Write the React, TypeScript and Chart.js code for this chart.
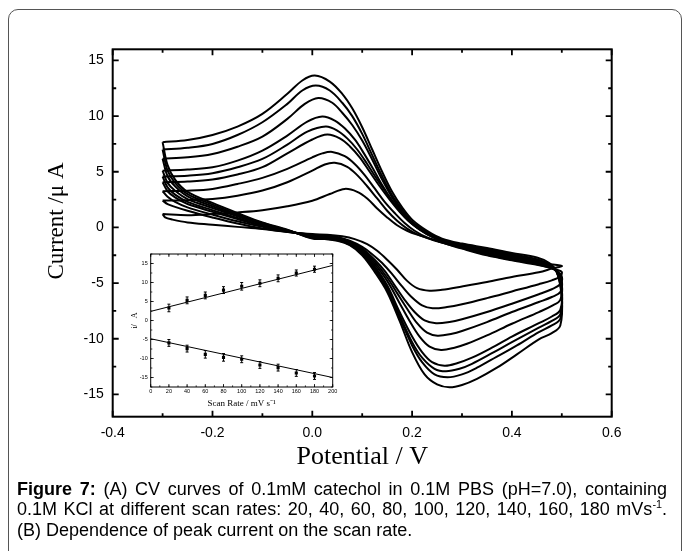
import React, { useEffect, useRef } from 'react';
import { Chart, registerables } from 'chart.js';

Chart.register(...registerables);

const SANS = "'Liberation Sans', Arial, Helvetica, sans-serif";
const SERIF = "'Liberation Serif', 'Times New Roman', Times, serif";

type Pt = [number, number];

// ---- Main figure (A): CV curves, potential (V) vs current (uA) ----
const scanRates = [20, 40, 60, 80, 100, 120, 140, 160, 180];

const cv20: Pt[] = [
  [-0.3, 1.2], [-0.25, 1.1], [-0.2, 1.2], [-0.15, 1.35], [-0.1, 1.55], [-0.05, 1.9], [0, 2.4], [0.035, 3.0], [0.065, 3.46],
  [0.09, 3.2], [0.11, 2.6], [0.13, 1.7], [0.15, 0.9], [0.17, 0.2], [0.19, -0.3], [0.21, -0.65], [0.25, -1.2], [0.3, -1.8],
  [0.35, -2.4], [0.4, -2.9], [0.45, -3.2], [0.5, -3.45],
  [0.48, -3.7], [0.454, -4.03], [0.4, -4.45], [0.35, -4.9], [0.3, -5.3], [0.26, -5.6], [0.235, -5.68], [0.21, -5.45],
  [0.19, -4.8], [0.17, -3.8], [0.15, -2.9], [0.13, -2.1], [0.11, -1.5], [0.085, -1.05], [0.06, -0.8], [0.03, -0.65], [0, -0.6],
  [-0.05, -0.4], [-0.1, -0.15], [-0.15, 0.05], [-0.2, 0.25], [-0.25, 0.45], [-0.28, 0.7], [-0.295, 0.9], [-0.3, 1.2],
];
const cv40: Pt[] = [
  [-0.3, 2.41], [-0.25, 2.45], [-0.2, 2.56], [-0.15, 2.85], [-0.1, 3.31], [-0.05, 4.06], [0, 5.1], [0.025, 5.65], [0.045, 5.8],
  [0.07, 5.45], [0.09, 4.7], [0.11, 3.7], [0.13, 2.6], [0.15, 1.5], [0.17, 0.6], [0.19, -0.1], [0.21, -0.6], [0.24, -1.1],
  [0.27, -1.5], [0.3, -1.9], [0.35, -2.5], [0.4, -2.95], [0.45, -3.35], [0.475, -3.6], [0.49, -3.8], [0.5, -4.0],
  [0.497, -4.4], [0.48, -4.75], [0.454, -5.1], [0.4, -5.75], [0.35, -6.35], [0.3, -6.9], [0.27, -7.15], [0.241, -7.26], [0.22, -7.0],
  [0.2, -6.3], [0.18, -5.3], [0.16, -4.2], [0.14, -3.2], [0.12, -2.4], [0.1, -1.75], [0.075, -1.2], [0.05, -0.85], [0.025, -0.7],
  [0, -0.65], [-0.05, -0.4], [-0.1, -0.1], [-0.15, 0.35], [-0.2, 0.9], [-0.25, 1.5], [-0.275, 1.85], [-0.29, 2.1], [-0.3, 2.41],
];
const cv60: Pt[] = [
  [-0.3, 3.25], [-0.25, 3.3], [-0.2, 3.46], [-0.15, 3.9], [-0.1, 4.45], [-0.05, 5.26], [0, 6.3], [0.02, 6.65], [0.04, 6.78],
  [0.065, 6.4], [0.085, 5.7], [0.105, 4.7], [0.125, 3.5], [0.145, 2.3], [0.165, 1.3], [0.185, 0.4], [0.205, -0.3], [0.23, -0.9],
  [0.26, -1.35], [0.3, -1.85], [0.35, -2.45], [0.4, -2.9], [0.45, -3.3], [0.475, -3.6], [0.49, -3.9], [0.5, -4.4],
  [0.497, -5.1], [0.48, -5.55], [0.454, -6.0], [0.4, -6.85], [0.35, -7.6], [0.3, -8.25], [0.275, -8.5], [0.248, -8.61], [0.225, -8.35],
  [0.205, -7.6], [0.185, -6.5], [0.165, -5.2], [0.145, -3.9], [0.125, -2.9], [0.1, -1.9], [0.075, -1.25], [0.05, -0.9],
  [0.025, -0.75], [0, -0.7], [-0.05, -0.35], [-0.1, 0.05], [-0.15, 0.55], [-0.2, 1.15], [-0.25, 1.8], [-0.275, 2.3],
  [-0.29, 2.75], [-0.3, 3.25],
];
const cv80: Pt[] = [
  [-0.3, 4.06], [-0.25, 4.12], [-0.2, 4.3], [-0.15, 4.75], [-0.1, 5.41], [-0.05, 6.66], [0, 7.9], [0.03, 8.34], [0.055, 8.0],
  [0.075, 7.3], [0.095, 6.3], [0.115, 5.0], [0.135, 3.7], [0.155, 2.5], [0.175, 1.4], [0.195, 0.5], [0.215, -0.2], [0.24, -0.85],
  [0.27, -1.35], [0.3, -1.8], [0.35, -2.35], [0.4, -2.8], [0.45, -3.25], [0.475, -3.55], [0.49, -3.95], [0.5, -4.8],
  [0.497, -5.8], [0.48, -6.25], [0.454, -6.7], [0.4, -7.6], [0.35, -8.5], [0.3, -9.3], [0.28, -9.55], [0.251, -9.72], [0.23, -9.45],
  [0.21, -8.6], [0.19, -7.3], [0.17, -5.9], [0.15, -4.5], [0.125, -3.1], [0.1, -2.0], [0.075, -1.3], [0.05, -0.95], [0.025, -0.8],
  [0, -0.75], [-0.05, -0.35], [-0.1, 0.15], [-0.15, 0.75], [-0.2, 1.4], [-0.25, 2.1], [-0.275, 2.7], [-0.29, 3.25], [-0.3, 4.06],
];
const cv100: Pt[] = [
  [-0.3, 4.57], [-0.25, 4.65], [-0.2, 4.87], [-0.15, 5.4], [-0.1, 6.15], [-0.05, 7.44], [-0.01, 8.6], [0.027, 9.06], [0.05, 8.7],
  [0.07, 8.0], [0.09, 7.0], [0.11, 5.7], [0.13, 4.3], [0.15, 3.0], [0.17, 1.8], [0.19, 0.8], [0.21, 0.0], [0.24, -0.8],
  [0.27, -1.3], [0.3, -1.7], [0.35, -2.25], [0.4, -2.7], [0.45, -3.15], [0.475, -3.5], [0.49, -4.0], [0.5, -5.1],
  [0.497, -6.5], [0.48, -7.05], [0.454, -7.6], [0.4, -8.65], [0.35, -9.7], [0.31, -10.45], [0.285, -10.8], [0.258, -11.0], [0.235, -10.7],
  [0.215, -9.8], [0.195, -8.4], [0.175, -6.8], [0.15, -4.8], [0.125, -3.3], [0.1, -2.1], [0.075, -1.4], [0.05, -1.0],
  [0.025, -0.85], [0, -0.8], [-0.05, -0.3], [-0.1, 0.2], [-0.15, 0.85], [-0.2, 1.55], [-0.25, 2.3], [-0.275, 2.95],
  [-0.29, 3.6], [-0.3, 4.57],
];
const cv120: Pt[] = [
  [-0.3, 5.1], [-0.25, 5.2], [-0.2, 5.41], [-0.15, 6.0], [-0.1, 6.9], [-0.05, 8.25], [-0.01, 9.5], [0.02, 9.96], [0.045, 9.6],
  [0.065, 8.9], [0.085, 7.9], [0.1, 6.9], [0.12, 5.4], [0.14, 3.8], [0.16, 2.4], [0.18, 1.2], [0.2, 0.3], [0.23, -0.6],
  [0.26, -1.2], [0.3, -1.65], [0.35, -2.15], [0.4, -2.6], [0.45, -3.05], [0.475, -3.45], [0.49, -4.0], [0.5, -5.5],
  [0.497, -7.4], [0.48, -8.0], [0.454, -8.6], [0.4, -9.8], [0.36, -10.8], [0.32, -11.7], [0.29, -12.2], [0.265, -12.42], [0.24, -12.1],
  [0.22, -11.2], [0.2, -9.8], [0.175, -7.6], [0.15, -5.2], [0.125, -3.5], [0.1, -2.2], [0.075, -1.45], [0.05, -1.05],
  [0.025, -0.9], [0, -0.85], [-0.05, -0.3], [-0.1, 0.3], [-0.15, 1.0], [-0.2, 1.75], [-0.25, 2.55], [-0.275, 3.3],
  [-0.29, 4.0], [-0.3, 5.1],
];
const cv140: Pt[] = [
  [-0.3, 6.18], [-0.25, 6.3], [-0.2, 6.6], [-0.15, 7.25], [-0.1, 8.16], [-0.05, 9.75], [-0.015, 11.1], [0.012, 11.63],
  [0.04, 11.2], [0.06, 10.3], [0.08, 9.2], [0.1, 7.8], [0.12, 6.1], [0.14, 4.3], [0.16, 2.7], [0.18, 1.4], [0.2, 0.4],
  [0.23, -0.5], [0.26, -1.15], [0.3, -1.6], [0.35, -2.05], [0.4, -2.5], [0.45, -2.95], [0.475, -3.35], [0.49, -4.0], [0.5, -5.8],
  [0.497, -7.8], [0.48, -8.4], [0.454, -9.0], [0.4, -10.3], [0.36, -11.3], [0.32, -12.25], [0.295, -12.7], [0.268, -12.92], [0.245, -12.7],
  [0.22, -11.7], [0.2, -10.3], [0.175, -7.9], [0.15, -5.4], [0.125, -3.65], [0.1, -2.3], [0.075, -1.5], [0.05, -1.1],
  [0.025, -0.95], [0, -0.9], [-0.05, -0.25], [-0.1, 0.35], [-0.15, 1.1], [-0.2, 1.9], [-0.25, 2.8], [-0.275, 3.7],
  [-0.29, 4.6], [-0.3, 6.18],
];
const cv160: Pt[] = [
  [-0.3, 6.99], [-0.25, 7.15], [-0.2, 7.5], [-0.15, 8.3], [-0.1, 9.45], [-0.05, 11.1], [-0.02, 12.3], [0.007, 12.74],
  [0.035, 12.3], [0.06, 11.2], [0.08, 10.0], [0.1, 8.4], [0.12, 6.5], [0.14, 4.6], [0.16, 2.9], [0.18, 1.6], [0.2, 0.5],
  [0.23, -0.4], [0.26, -1.1], [0.3, -1.55], [0.35, -1.95], [0.4, -2.4], [0.45, -2.85], [0.475, -3.3], [0.49, -4.0], [0.5, -6.1],
  [0.497, -8.2], [0.48, -8.8], [0.454, -9.4], [0.41, -10.6], [0.37, -11.6], [0.33, -12.6], [0.3, -13.2], [0.271, -13.46], [0.245, -13.2],
  [0.22, -12.1], [0.2, -10.6], [0.175, -8.1], [0.15, -5.6], [0.125, -3.8], [0.1, -2.4], [0.075, -1.55], [0.05, -1.15],
  [0.025, -1.0], [0, -0.95], [-0.05, -0.25], [-0.1, 0.4], [-0.15, 1.2], [-0.2, 2.05], [-0.25, 3.0], [-0.275, 4.0],
  [-0.29, 5.1], [-0.3, 6.99],
];
const cv180: Pt[] = [
  [-0.3, 7.66], [-0.25, 7.86], [-0.2, 8.31], [-0.15, 9.06], [-0.1, 10.2], [-0.05, 12.0], [-0.02, 13.2], [0.005, 13.64],
  [0.035, 13.1], [0.06, 12.0], [0.08, 10.7], [0.1, 9.0], [0.12, 7.0], [0.14, 5.0], [0.16, 3.2], [0.18, 1.8], [0.2, 0.7],
  [0.23, -0.3], [0.26, -1.0], [0.3, -1.45], [0.35, -1.85], [0.4, -2.3], [0.45, -2.7], [0.475, -3.2], [0.49, -4.0], [0.5, -6.4],
  [0.497, -8.8], [0.48, -9.5], [0.454, -10.05], [0.41, -11.4], [0.37, -12.6], [0.33, -13.6], [0.3, -14.15], [0.275, -14.36], [0.25, -14.1],
  [0.225, -13.2], [0.2, -11.2], [0.175, -8.4], [0.15, -5.8], [0.125, -4.0], [0.1, -2.5], [0.075, -1.6], [0.05, -1.2],
  [0.025, -1.05], [0, -1.0], [-0.05, -0.2], [-0.1, 0.45], [-0.15, 1.3], [-0.2, 2.2], [-0.25, 3.2], [-0.275, 4.3],
  [-0.29, 5.6], [-0.3, 7.66],
];
const cvCurves: Pt[][] = [cv20, cv40, cv60, cv80, cv100, cv120, cv140, cv160, cv180];

const potentialTicks = [-0.4, -0.2, 0, 0.2, 0.4, 0.6];
const currentTicks = [-15, -10, -5, 0, 5, 10, 15];
const yTitle = 'Current /\u03bc A';

// ---- Inset (B): peak current vs scan rate ----
const insetRates = [20, 40, 60, 80, 100, 120, 140, 160, 180];
const anodicPeak = [3.3, 5.3, 6.6, 8.0, 9.0, 9.8, 11.1, 12.5, 13.5];
const anodicErr = [1.0, 0.9, 0.9, 0.9, 1.0, 0.9, 0.9, 0.8, 0.8];
const cathodicPeak = [-5.9, -7.4, -8.9, -9.7, -10.2, -11.7, -12.4, -13.8, -14.6];
const cathodicErr = [0.9, 0.9, 1.0, 1.0, 0.9, 0.9, 0.9, 0.9, 0.9];
const fitRates = [0, 200];
const anodicFit = [2.4, 14.5];
const cathodicFit = [-4.8, -15.0];
const insetXTicks = [0, 20, 40, 60, 80, 100, 120, 140, 160, 180, 200];
const insetYTicks = [-15, -10, -5, 0, 5, 10, 15];

function frameTicksPlugin(cfg: { major: number; minor: number; xMinor: number; yMinor: number; tickWidth: number; frameWidth: number }) {
  return {
    id: 'frameTicks',
    afterDraw(chart: any) {
      const { ctx, chartArea: a, scales } = chart;
      const xs = scales.x;
      const ys = scales.y;
      const minorVals = (s: any, step: number) => {
        const out: number[] = [];
        const start = Math.ceil(s.min / step - 1e-6);
        for (let i = start; i * step <= s.max + 1e-9; i++) out.push(i * step);
        return out;
      };
      ctx.save();
      ctx.strokeStyle = '#000';
      ctx.lineWidth = cfg.tickWidth;
      ctx.beginPath();
      const xTick = (v: number, len: number) => {
        const p = xs.getPixelForValue(v);
        ctx.moveTo(p, a.bottom); ctx.lineTo(p, a.bottom - len);
        ctx.moveTo(p, a.top); ctx.lineTo(p, a.top + len);
      };
      const yTick = (v: number, len: number) => {
        const p = ys.getPixelForValue(v);
        ctx.moveTo(a.left, p); ctx.lineTo(a.left + len, p);
        ctx.moveTo(a.right, p); ctx.lineTo(a.right - len, p);
      };
      minorVals(xs, cfg.xMinor).forEach((v) => xTick(v, cfg.minor));
      minorVals(ys, cfg.yMinor).forEach((v) => yTick(v, cfg.minor));
      xs.ticks.forEach((t: any) => xTick(t.value, cfg.major));
      ys.ticks.forEach((t: any) => yTick(t.value, cfg.major));
      ctx.stroke();
      ctx.lineWidth = cfg.frameWidth;
      ctx.strokeRect(a.left, a.top, a.right - a.left, a.bottom - a.top);
      ctx.restore();
    },
  };
}

// y-axis title of the main plot, placed slightly above the axis centre as in the figure
const yTitlePlugin = {
  id: 'yTitle',
  afterDraw(chart: any) {
    const { ctx, chartArea: a } = chart;
    ctx.save();
    ctx.translate(57, (a.top + a.bottom) / 2 - 12);
    ctx.rotate(-Math.PI / 2);
    ctx.font = `23px ${SERIF}`;
    ctx.fillStyle = '#000';
    ctx.textAlign = 'center';
    ctx.textBaseline = 'middle';
    ctx.fillText(yTitle, 0, 0);
    ctx.restore();
  },
};

const errorBarsPlugin = {
  id: 'errorBars',
  beforeDatasetsDraw(chart: any) {
    const { ctx, scales } = chart;
    const xs = scales.x;
    const ys = scales.y;
    const series = [
      { v: anodicPeak, e: anodicErr },
      { v: cathodicPeak, e: cathodicErr },
    ];
    ctx.save();
    ctx.strokeStyle = '#000';
    ctx.lineWidth = 1;
    ctx.beginPath();
    series.forEach((s) => {
      insetRates.forEach((r, i) => {
        const px = xs.getPixelForValue(r);
        const pt = ys.getPixelForValue(s.v[i] + s.e[i]);
        const pb = ys.getPixelForValue(s.v[i] - s.e[i]);
        ctx.moveTo(px, pt); ctx.lineTo(px, pb);
        ctx.moveTo(px - 1.5, pt); ctx.lineTo(px + 1.5, pt);
        ctx.moveTo(px - 1.5, pb); ctx.lineTo(px + 1.5, pb);
      });
    });
    ctx.stroke();
    ctx.restore();
  },
};

export default function App() {
  const mainRef = useRef<HTMLCanvasElement | null>(null);
  const insetRef = useRef<HTMLCanvasElement | null>(null);

  useEffect(() => {
    const main = new Chart(mainRef.current as HTMLCanvasElement, {
      type: 'scatter',
      data: {
        datasets: cvCurves.map((c, i) => ({
          label: `${scanRates[i]} mV/s`,
          data: c.map(([x, y]) => ({ x, y })),
          showLine: true,
          pointRadius: 0,
          borderColor: '#000',
          borderWidth: 2,
          tension: 0.35,
          fill: false,
        })),
      },
      options: {
        responsive: false,
        animation: false,
        devicePixelRatio: 1,
        layout: { padding: { left: 0, top: 49.3, right: 71.3, bottom: 74.3 } },
        plugins: { legend: { display: false }, tooltip: { enabled: false } },
        scales: {
          x: {
            type: 'linear',
            min: -0.4,
            max: 0.6,
            afterBuildTicks: (s: any) => { s.ticks = potentialTicks.map((v) => ({ value: v })); },
            afterFit: (s: any) => { s.height = 60; },
            grid: { display: false, drawTicks: false },
            border: { display: false },
            ticks: {
              autoSkip: false,
              maxRotation: 0,
              padding: 7.6,
              color: '#000',
              font: { family: SANS, size: 14 },
              callback: (v: any) => Number(v).toFixed(1),
            },
            title: {
              display: true,
              text: 'Potential / V',
              color: '#000',
              font: { family: SERIF, size: 26 },
              padding: { top: 0, bottom: 4.1 },
            },
          },
          y: {
            type: 'linear',
            min: -17,
            max: 16,
            afterBuildTicks: (s: any) => { s.ticks = currentTicks.map((v) => ({ value: v })); },
            afterFit: (s: any) => { s.width = 112.7; },
            grid: { display: false, drawTicks: false },
            border: { display: false },
            ticks: {
              autoSkip: false,
              padding: 9,
              color: '#000',
              font: { family: SANS, size: 14 },
              callback: (v: any) => String(v),
            },
            title: { display: false },
          },
        },
      },
      plugins: [frameTicksPlugin({ major: 6, minor: 3.5, xMinor: 0.1, yMinor: 2.5, tickWidth: 1.8, frameWidth: 2 }), yTitlePlugin],
    } as any);

    const inset = new Chart(insetRef.current as HTMLCanvasElement, {
      type: 'scatter',
      data: {
        datasets: [
          {
            label: 'anodic fit',
            data: fitRates.map((x, i) => ({ x, y: anodicFit[i] })),
            showLine: true, pointRadius: 0, borderColor: '#000', borderWidth: 1,
          },
          {
            label: 'cathodic fit',
            data: fitRates.map((x, i) => ({ x, y: cathodicFit[i] })),
            showLine: true, pointRadius: 0, borderColor: '#000', borderWidth: 1,
          },
          {
            label: 'anodic',
            data: insetRates.map((x, i) => ({ x, y: anodicPeak[i] })),
            showLine: false, pointStyle: 'rect', pointRadius: 2.2,
            backgroundColor: '#000', borderColor: '#000', borderWidth: 0,
          },
          {
            label: 'cathodic',
            data: insetRates.map((x, i) => ({ x, y: cathodicPeak[i] })),
            showLine: false, pointStyle: 'rect', pointRadius: 2.2,
            backgroundColor: '#000', borderColor: '#000', borderWidth: 0,
          },
        ],
      },
      options: {
        responsive: false,
        animation: false,
        devicePixelRatio: 1,
        layout: { padding: { left: 120, top: 254, right: 350.3, bottom: 134 } },
        plugins: { legend: { display: false }, tooltip: { enabled: false } },
        scales: {
          x: {
            type: 'linear',
            min: 0,
            max: 200,
            afterBuildTicks: (s: any) => { s.ticks = insetXTicks.map((v) => ({ value: v })); },
            afterFit: (s: any) => { s.height = 30; },
            grid: { display: false, drawTicks: false },
            border: { display: false },
            ticks: { autoSkip: false, maxRotation: 0, padding: 1.4, color: '#000', font: { family: SANS, size: 5.5 } },
            title: {
              display: true,
              text: 'Scan Rate / mV s\u207b\u00b9',
              color: '#000',
              font: { family: SERIF, size: 9 },
              padding: { top: 0, bottom: 8.3 },
            },
          },
          y: {
            type: 'linear',
            min: -17.5,
            max: 17.5,
            afterBuildTicks: (s: any) => { s.ticks = insetYTicks.map((v) => ({ value: v })); },
            afterFit: (s: any) => { s.width = 30.7; },
            grid: { display: false, drawTicks: false },
            border: { display: false },
            ticks: { autoSkip: false, padding: 3, color: '#000', font: { family: SANS, size: 5.5 } },
            title: {
              display: true,
              text: 'i/   A',
              color: '#000',
              font: { family: SERIF, size: 8 },
              padding: { top: 10.2, bottom: 0 },
            },
          },
        },
      },
      plugins: [
        errorBarsPlugin,
        frameTicksPlugin({ major: 3, minor: 1.6, xMinor: 10, yMinor: 2.5, tickWidth: 0.8, frameWidth: 1 }),
      ],
    } as any);

    return () => {
      main.destroy();
      inset.destroy();
    };
  }, []);

  const lineStyle: React.CSSProperties = {
    textAlign: 'justify',
    textAlignLast: 'justify',
    height: 20.7,
  };

  return (
    <div style={{ position: 'absolute', left: 0, top: 0, width: 683, height: 551, overflow: 'hidden', background: '#fff' }}>
      <div
        style={{
          position: 'absolute', left: 8, top: 9, width: 674, height: 600, boxSizing: 'border-box',
          border: '1.5px solid #555', borderRadius: 10,
        }}
      />
      <canvas ref={mainRef} width={683} height={551} style={{ position: 'absolute', left: 0, top: 0 }} />
      <canvas ref={insetRef} width={683} height={551} style={{ position: 'absolute', left: 0, top: 0, pointerEvents: 'none' }} />
      <div
        style={{
          position: 'absolute', left: 17, top: 478.5, width: 650, fontFamily: SANS, fontSize: 18,
          lineHeight: '20.7px', color: '#000',
        }}
      >
        <div style={lineStyle}>
          <b>Figure 7:</b> (A) CV curves of 0.1mM catechol in 0.1M PBS (pH=7.0), containing
        </div>
        <div style={lineStyle}>
          0.1M KCl at different scan rates: {scanRates.join(', ')} mVs
          <sup style={{ fontSize: '0.6em', lineHeight: 0, verticalAlign: 'super' }}>-1</sup>.
        </div>
        <div style={{ height: 20.7, textAlign: 'left' }}>(B) Dependence of peak current on the scan rate.</div>
      </div>
    </div>
  );
}
